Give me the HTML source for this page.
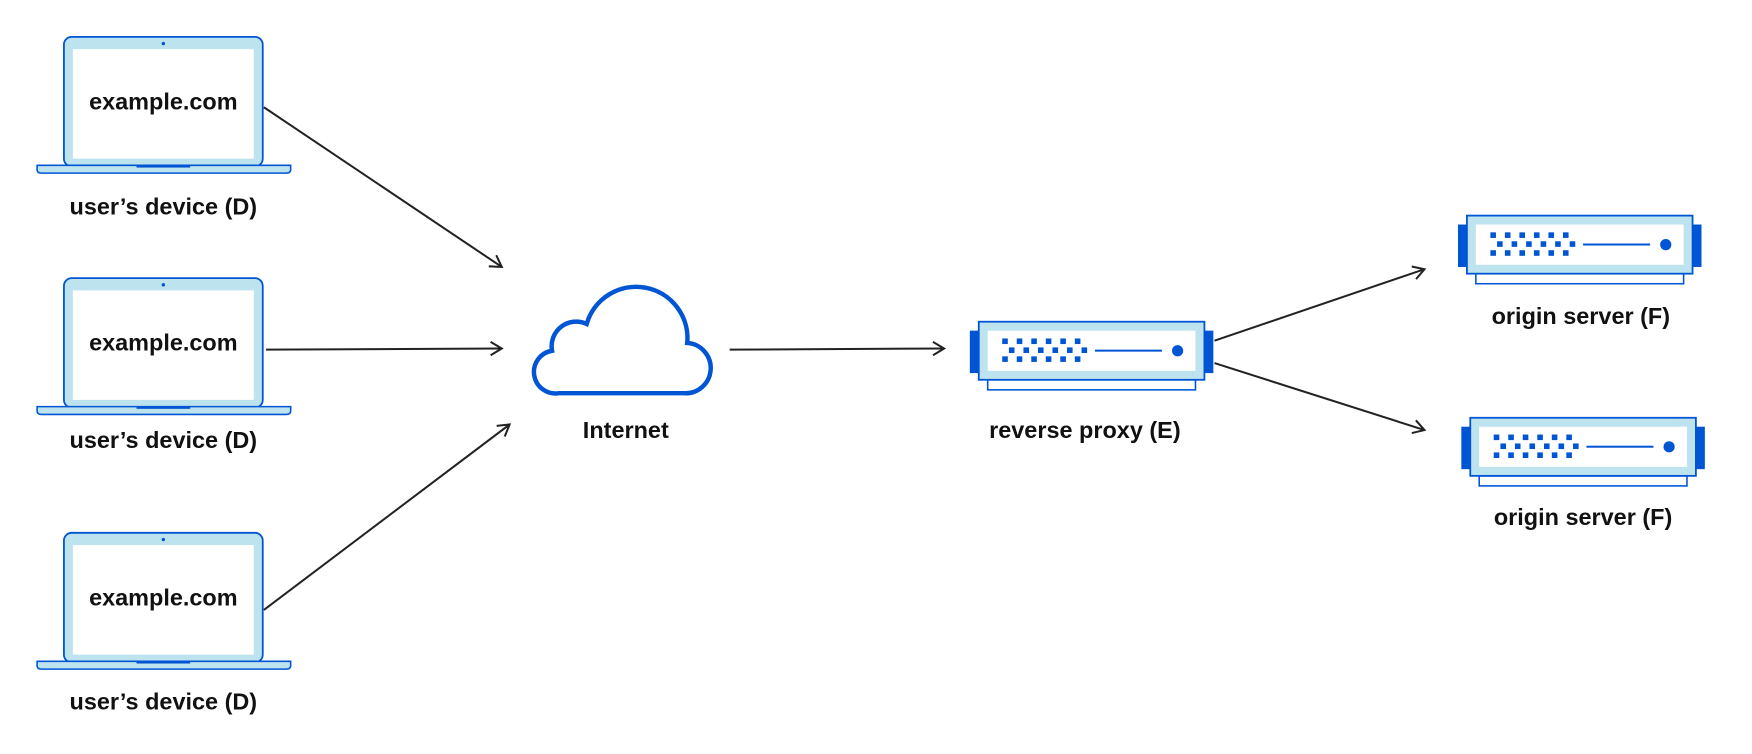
<!DOCTYPE html>
<html><head><meta charset="utf-8"><style>
html,body{margin:0;padding:0;background:#fff;}
svg{display:block;}
text{font-family:"Liberation Sans",Arial,sans-serif;font-weight:bold;fill:#111;text-anchor:middle;}
</style></head><body>
<svg width="1752" height="754" viewBox="0 0 1568 675" xmlns="http://www.w3.org/2000/svg">
<defs>
<g id="laptop">
  <rect x="57" y="33" width="178" height="116" rx="7" fill="#bde3ee" stroke="#0055d4" stroke-width="1.6"/>
  <rect x="65" y="44" width="162" height="98" fill="#fff"/>
  <circle cx="146" cy="39" r="1.5" fill="#0055d4"/>
  <path d="M33,148 H260 V152 Q260,155 256,155 H37 Q33,155 33,152 Z" fill="#bde3ee" stroke="#0055d4" stroke-width="1.4"/>
  <rect x="122" y="148" width="48" height="2" fill="#0055d4"/>
  <text x="146" y="98" font-size="21">example.com</text>
</g>
<g id="server">
  <rect x="-8" y="8" width="8" height="38" fill="#0055d4"/>
  <rect x="202" y="8" width="8" height="38" fill="#0055d4"/>
  <rect x="8" y="52" width="186" height="9" fill="#fff" stroke="#0055d4" stroke-width="1.4"/>
  <rect x="0" y="0" width="202" height="52" fill="#bde3ee" stroke="#0055d4" stroke-width="1.6"/>
  <rect x="8" y="8" width="186" height="36" fill="#fff"/>
  <g fill="#0055d4">
    <rect x="21" y="15" width="5" height="5"/><rect x="34" y="15" width="5" height="5"/><rect x="47" y="15" width="5" height="5"/><rect x="60" y="15" width="5" height="5"/><rect x="73" y="15" width="5" height="5"/><rect x="86" y="15" width="5" height="5"/>
    <rect x="27" y="23" width="5" height="5"/><rect x="40" y="23" width="5" height="5"/><rect x="53" y="23" width="5" height="5"/><rect x="66" y="23" width="5" height="5"/><rect x="79" y="23" width="5" height="5"/><rect x="92" y="23" width="5" height="5"/>
    <rect x="21" y="31" width="5" height="5"/><rect x="34" y="31" width="5" height="5"/><rect x="47" y="31" width="5" height="5"/><rect x="60" y="31" width="5" height="5"/><rect x="73" y="31" width="5" height="5"/><rect x="86" y="31" width="5" height="5"/>
    <rect x="104" y="25" width="60" height="1.8"/>
    <circle cx="178" cy="26" r="5"/>
  </g>
</g>
<marker id="ah" markerWidth="14" markerHeight="14" refX="12" refY="7" orient="auto" markerUnits="userSpaceOnUse">
  <path d="M2,1 L12,7 L2,13" fill="none" stroke="#222" stroke-width="1.8"/>
</marker>
</defs>

<use href="#laptop"/>
<text x="146" y="192" font-size="21">user’s device (D)</text>
<use href="#laptop" y="216"/>
<text x="146" y="401" font-size="21">user’s device (D)</text>
<use href="#laptop" y="444"/>
<text x="146" y="635" font-size="21">user’s device (D)</text>

<path d="M500,352 H612 A22,22 0 0 0 615,307 A46,46 0 0 0 525,290 A22,22 0 0 0 494,314 A19,19 0 0 0 500,352 Z" fill="#fff" stroke="#0055d4" stroke-width="4"/>
<text x="560" y="392" font-size="21">Internet</text>

<use href="#server" x="876" y="288"/>
<text x="971" y="392" font-size="21">reverse proxy (E)</text>
<use href="#server" x="1313" y="193"/>
<text x="1415" y="290" font-size="21">origin server (F)</text>
<use href="#server" x="1316" y="374"/>
<text x="1417" y="470" font-size="21">origin server (F)</text>

<g stroke="#222" stroke-width="1.8" fill="none" marker-end="url(#ah)">
  <line x1="236" y1="96" x2="449" y2="239"/>
  <line x1="238" y1="313" x2="449" y2="312"/>
  <line x1="236" y1="546" x2="456" y2="380"/>
  <line x1="653" y1="313" x2="845" y2="312"/>
  <line x1="1087" y1="305" x2="1275" y2="241"/>
  <line x1="1087" y1="325" x2="1275" y2="385"/>
</g>
</svg>
</body></html>
